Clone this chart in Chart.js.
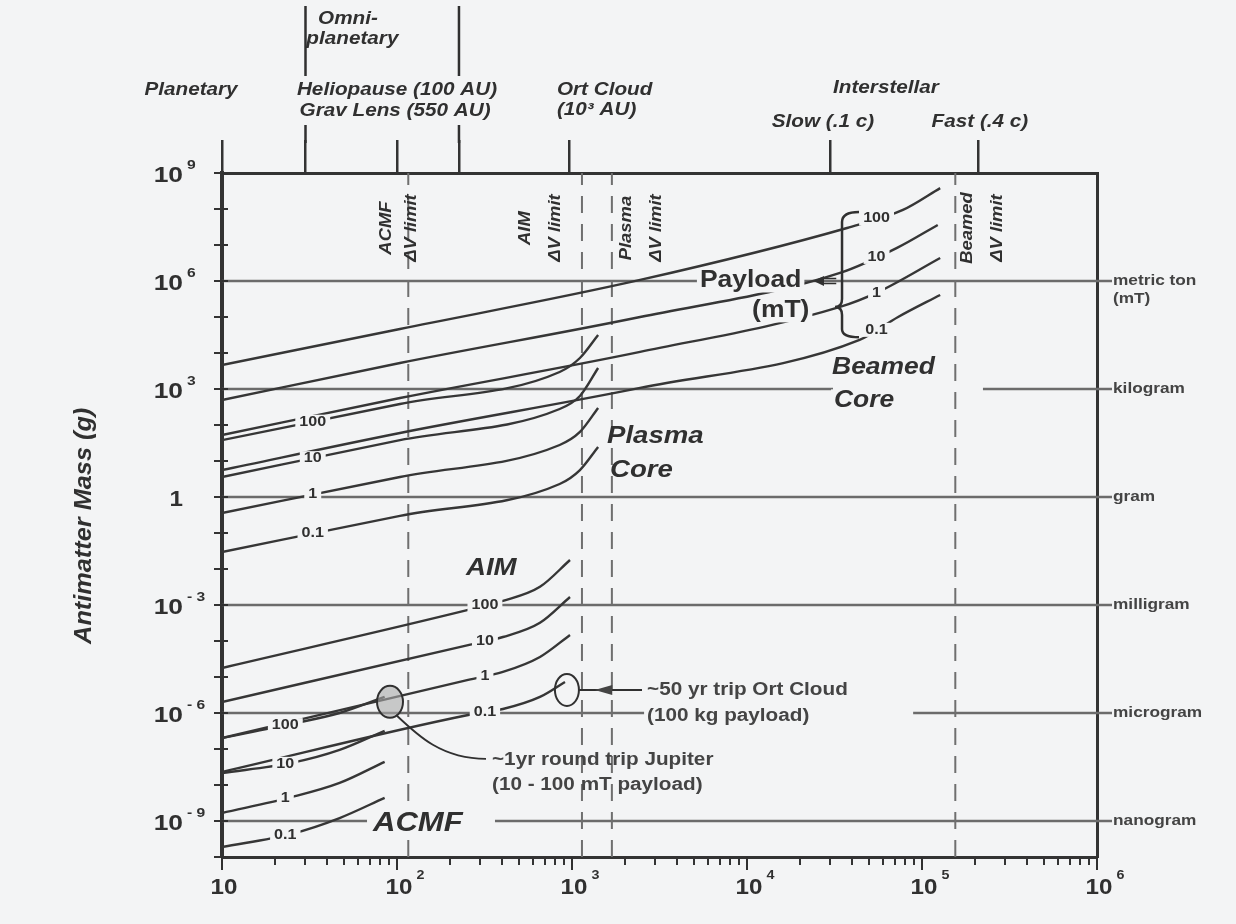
<!DOCTYPE html>
<html>
<head>
<meta charset="utf-8">
<title>Antimatter mass requirements</title>
<script src="https://cdn.jsdelivr.net/npm/chart.js@4.4.1/dist/chart.umd.min.js"></script>
<style>
  html, body { margin: 0; padding: 0; background: #f3f4f5; }
  canvas { display: block; }
</style>
</head>
<body>
<canvas id="chart" width="1236" height="924"></canvas>
<script>
// ---- axes ----
const xLabelTicks = [10, 1e2, 1e3, 1e4, 1e5, 1e6];
const xTickLabels = ['10', '10^2', '10^3', '10^4', '10^5', '10^6'];
const yLabelTicks = [1e9, 1e6, 1e3, 1, 1e-3, 1e-6, 1e-9];
const yTickLabels = ['10^9', '10^6', '10^3', '1', '10^-3', '10^-6', '10^-9'];
const missionTicks = [10, 30, 100, 226, 970, 3e4, 2.1e5];

// ---- mass units marked on the right ----
const unitValues = [1e6, 1e3, 1, 1e-3, 1e-6, 1e-9];
const unitNames = ['metric ton', 'kilogram', 'gram', 'milligram', 'microgram', 'nanogram'];
const unitGaps = [[], [[31000, 2.23e5]], [], [], [[2680, 8.9e4]], [[70, 363]]];

// ---- delta-V limit of each concept ----
const dvLimits = [116, 1140, 1690, 1.55e5];
const dvNames = ['ACMF', 'AIM', 'Plasma', 'Beamed'];

// ---- payload (mT) of each curve ----
const payloads = ['100', '10', '1', '0.1'];

// Beamed core
const beamed100X = [10, 104, 2450, 37300, 77800, 127000];
const beamed100Y = [4640, 46400, 1.07e6, 2.97e7, 9.4e7, 3.8e8];
const beamed10X = [10, 104, 2450, 34000, 72000, 123000];
const beamed10Y = [494, 5280, 1.0e5, 1.67e6, 8.3e6, 3.6e7];
const beamed1X = [10, 104, 2450, 34000, 56000, 127000];
const beamed1Y = [52.7, 562, 1.07e4, 1.9e5, 4.9e5, 4.35e6];
const beamed01X = [10, 104, 2450, 44000, 73000, 127000];
const beamed01Y = [5.6, 60, 1070, 2.3e4, 1.0e5, 4.1e5];

// Plasma core
const plasmaX = [10, 104, 850, 1110, 1410];
const plasma100Y = [38, 383, 2970, 7260, 31600];
const plasma10Y = [3.6, 38, 278, 640, 3830];
const plasma1Y = [0.36, 3.6, 27.8, 64, 297];
const plasma01Y = [0.0297, 0.30, 2.3, 5.6, 24.5];

// AIM
const aimX = [10, 255, 403, 656, 974];
const aim100Y = [1.78e-5, 7.3e-4, 1.3e-3, 3.2e-3, 0.0178];
const aim10Y = [2.02e-6, 7.7e-5, 1.29e-4, 3.2e-4, 1.67e-3];
const aim1Y = [2.02e-7, 8.3e-6, 1.38e-5, 3.6e-5, 1.47e-4];
const aim01X = [10, 255, 403, 656, 912];
const aim01Y = [2.3e-8, 8.8e-7, 1.29e-6, 2.8e-6, 7.3e-6];

// ACMF
const acmfX = [10, 25, 47, 85];
const acmf100Y = [2.02e-7, 5.0e-7, 1.0e-6, 2.8e-6];
const acmf10Y = [2.15e-8, 4.1e-8, 9.4e-8, 3.2e-7];
const acmf1Y = [1.67e-9, 4.6e-9, 1.14e-8, 4.4e-8];
const acmf01Y = [1.9e-10, 4.4e-10, 1.21e-9, 4.4e-9];

// where the payload numbers sit along each family
const beamedLabelAt = 55000, plasmaLabelAt = 33, aimLabelAt = 318, acmfLabelAt = 23;

// ---- drawing style ----
const BG = '#f3f4f5';
const INK = '#303030';
const FAMILY = "'Liberation Sans', Arial, Helvetica, sans-serif";
const HS = 1.15;

const curves = [
  { xs: beamed100X, ys: beamed100Y, label: payloads[0], at: beamedLabelAt },
  { xs: beamed10X, ys: beamed10Y, label: payloads[1], at: beamedLabelAt },
  { xs: beamed1X, ys: beamed1Y, label: payloads[2], at: beamedLabelAt },
  { xs: beamed01X, ys: beamed01Y, label: payloads[3], at: beamedLabelAt },
  { xs: plasmaX, ys: plasma100Y, label: payloads[0], at: plasmaLabelAt },
  { xs: plasmaX, ys: plasma10Y, label: payloads[1], at: plasmaLabelAt },
  { xs: plasmaX, ys: plasma1Y, label: payloads[2], at: plasmaLabelAt },
  { xs: plasmaX, ys: plasma01Y, label: payloads[3], at: plasmaLabelAt },
  { xs: aimX, ys: aim100Y, label: payloads[0], at: aimLabelAt },
  { xs: aimX, ys: aim10Y, label: payloads[1], at: aimLabelAt },
  { xs: aimX, ys: aim1Y, label: payloads[2], at: aimLabelAt },
  { xs: aim01X, ys: aim01Y, label: payloads[3], at: aimLabelAt },
  { xs: acmfX, ys: acmf100Y, label: payloads[0], at: acmfLabelAt },
  { xs: acmfX, ys: acmf10Y, label: payloads[1], at: acmfLabelAt },
  { xs: acmfX, ys: acmf1Y, label: payloads[2], at: acmfLabelAt },
  { xs: acmfX, ys: acmf01Y, label: payloads[3], at: acmfLabelAt },
];

function pts(xs, ys) { return xs.map((x, i) => ({ x, y: ys[i] })); }

function unitLine(v, gaps) {
  const d = [{ x: 10, y: v }];
  gaps.forEach(([a, b]) => { d.push({ x: a, y: v }, { x: a, y: null }, { x: b, y: v }); });
  d.push({ x: 1e6, y: v });
  return d;
}

function yAt(xs, ys, xv) {
  const l = Math.log10(xv);
  for (let i = 0; i < xs.length - 1; i++) {
    const a = Math.log10(xs[i]), b = Math.log10(xs[i + 1]);
    if (l >= a && l <= b) {
      const t = (l - a) / (b - a);
      return 10 ** (Math.log10(ys[i]) + t * (Math.log10(ys[i + 1]) - Math.log10(ys[i])));
    }
  }
  return ys[ys.length - 1];
}

function font(size, bold, italic) {
  return `${italic ? 'italic ' : ''}${bold ? 'bold ' : ''}${size}px ${FAMILY}`;
}

// text with optional background patch that breaks the lines beneath it
function drawText(ctx, s, x, y, o = {}) {
  const size = o.size || 14;
  const hs = o.hs || HS;
  ctx.save();
  ctx.font = font(size, o.bold !== false, o.italic);
  ctx.textBaseline = 'middle';
  ctx.textAlign = 'left';
  const w = ctx.measureText(s).width * hs;
  const x0 = o.align === 'center' ? x - w / 2 : o.align === 'right' ? x - w : x;
  if (o.bg) {
    const p = o.pad == null ? 3 : o.pad;
    ctx.fillStyle = BG;
    ctx.fillRect(x0 - p, y - size * 0.5, w + 2 * p, size * 1.0);
  }
  ctx.translate(x0, y);
  ctx.scale(hs, 1);
  ctx.fillStyle = o.color || INK;
  ctx.fillText(s, 0, 0);
  ctx.restore();
  return w;
}

function drawVertical(ctx, s, x, y, o = {}) {
  const size = o.size || 14;
  ctx.save();
  ctx.translate(x, y);
  ctx.rotate(-Math.PI / 2);
  ctx.font = font(size, o.bold !== false, o.italic);
  ctx.textBaseline = 'middle';
  ctx.textAlign = 'center';
  ctx.scale(o.hs || HS, 1);
  ctx.fillStyle = o.color || INK;
  ctx.fillText(s, 0, 0);
  ctx.restore();
}

// "10^3" style label: base with a raised exponent
function drawPow(ctx, label, x, y, o) {
  const [base, exp] = label.split('^');
  ctx.save();
  ctx.font = font(o.size, true, false);
  const bw = ctx.measureText(base).width * o.hs;
  const bx = o.align === 'right' ? x - bw : x - bw / 2;
  ctx.fillStyle = INK;
  ctx.textBaseline = 'middle';
  ctx.textAlign = 'left';
  ctx.save();
  ctx.translate(bx, y); ctx.scale(o.hs, 1); ctx.fillText(base, 0, 0);
  ctx.restore();
  if (exp) {
    ctx.save();
    ctx.font = font(o.expSize, true, false);
    ctx.translate(bx + bw + 4, y - o.rise); ctx.scale(o.hs, 1); ctx.fillText(exp.replace('-', '- '), 0, 0);
    ctx.restore();
  }
  ctx.restore();
}

// labels inside the plot, placed in decades (log10 of x and y)
const innerTexts = [
  { s: 'Plasma', lx: 3.2, ly: 1.69, size: 24, italic: true },
  { s: 'Core', lx: 3.217, ly: 0.75, size: 24, italic: true },
  { s: 'Beamed', lx: 4.486, ly: 3.58, size: 23, italic: true, bg: true },
  { s: 'Core', lx: 4.497, ly: 2.67, size: 23, italic: true, bg: true },
  { s: 'AIM', lx: 2.394, ly: -1.97, size: 24, italic: true },
  { s: 'ACMF', lx: 1.863, ly: -9.08, size: 27, italic: true, bg: true, pad: 6 },
  { s: 'Payload', lx: 3.731, ly: 6.0, size: 23, bg: true },
  { s: '(mT)', lx: 4.029, ly: 5.17, size: 23, bg: true },
  { s: '~50 yr trip Ort Cloud', lx: 3.429, ly: -5.36, size: 18, color: '#444' },
  { s: '(100 kg payload)', lx: 3.429, ly: -6.08, size: 18, color: '#444', bg: true },
  { s: '~1yr round trip Jupiter', lx: 2.543, ly: -7.31, size: 18, color: '#444' },
  { s: '(10 - 100 mT payload)', lx: 2.543, ly: -8.0, size: 18, color: '#444' },
];

// rotated names of the delta-V limits
const dvLabelLx = [[1.943, 2.086], [2.737, 2.909], [3.314, 3.486], [5.263, 5.434]];
const dvLabelLy = 7.47;

// captions above the plot: decade position along x, height above the frame
const topTexts = [
  { s: 'Planetary', lx: 0.823, dy: 83, align: 'center' },
  { s: 'Omni-', lx: 1.72, dy: 154, align: 'center' },
  { s: 'planetary', lx: 1.745, dy: 134, align: 'center' },
  { s: 'Heliopause (100 AU)', lx: 2.0, dy: 83, align: 'center' },
  { s: 'Grav Lens (550 AU)', lx: 1.989, dy: 62, align: 'center' },
  { s: 'Ort Cloud', lx: 2.914, dy: 83, align: 'left' },
  { s: '(10³ AU)', lx: 2.914, dy: 63, align: 'left' },
  { s: 'Interstellar', lx: 4.794, dy: 85, align: 'center' },
  { s: 'Slow (.1 c)', lx: 4.434, dy: 51, align: 'center' },
  { s: 'Fast (.4 c)', lx: 5.331, dy: 51, align: 'center' },
];

const decor = {
  id: 'decor',
  afterDatasetsDraw(chart) {
    const ctx = chart.ctx, xs = chart.scales.x, ys = chart.scales.y, a = chart.chartArea;
    const X = l => xs.getPixelForValue(10 ** l);
    const Y = l => ys.getPixelForValue(10 ** l);
    ctx.save();
    ctx.beginPath(); ctx.rect(a.left, a.top, a.right - a.left, a.bottom - a.top); ctx.clip();

    // payload numbers on the curves
    curves.forEach(c => {
      const x = xs.getPixelForValue(c.at);
      const y = ys.getPixelForValue(yAt(c.xs, c.ys, c.at));
      drawText(ctx, c.label, x, y, { size: 14, align: 'center', bg: true, pad: 4 });
    });

    // delta-V limit captions
    dvLabelLx.forEach((pair, i) => {
      drawVertical(ctx, dvNames[i], X(pair[0]), Y(dvLabelLy), { size: 16, italic: true });
      drawVertical(ctx, '\u0394V limit', X(pair[1]), Y(dvLabelLy), { size: 16, italic: true });
    });

    innerTexts.forEach(t => drawText(ctx, t.s, X(t.lx), Y(t.ly), t));

    ctx.strokeStyle = INK; ctx.fillStyle = INK; ctx.lineWidth = 2;

    // mission markers
    const jx = X(1.96), jy = Y(-5.69);
    ctx.beginPath(); ctx.ellipse(jx, jy, 13, 16, 0, 0, Math.PI * 2);
    ctx.fillStyle = 'rgba(170,170,170,0.6)'; ctx.fill(); ctx.stroke();
    ctx.beginPath(); ctx.moveTo(jx + 6, jy + 13);
    ctx.bezierCurveTo(jx + 28, jy + 34, jx + 52, jy + 57, jx + 96, jy + 57);
    ctx.lineWidth = 1.8; ctx.stroke();

    const ox = X(2.971), oy = Y(-5.36);
    ctx.lineWidth = 2;
    ctx.beginPath(); ctx.ellipse(ox, oy, 12, 16, 0, 0, Math.PI * 2); ctx.stroke();
    ctx.beginPath(); ctx.moveTo(X(3.4), oy); ctx.lineTo(ox + 12, oy); ctx.lineWidth = 2; ctx.stroke();
    ctx.fillStyle = '#444';
    ctx.beginPath(); ctx.moveTo(X(3.13), oy); ctx.lineTo(X(3.23), oy - 5); ctx.lineTo(X(3.23), oy + 5); ctx.closePath(); ctx.fill();

    // brace grouping the beamed-core payloads
    const bx = X(4.543), bt = Y(7.92), bb = Y(4.44), bm = Y(5.28);
    ctx.strokeStyle = INK; ctx.lineWidth = 2.5;
    ctx.beginPath();
    ctx.moveTo(bx + 17, bt);
    ctx.quadraticCurveTo(bx, bt, bx, bt + 10);
    ctx.lineTo(bx, bm - 8);
    ctx.quadraticCurveTo(bx, bm, bx - 7, bm);
    ctx.quadraticCurveTo(bx, bm, bx, bm + 8);
    ctx.lineTo(bx, bb - 8);
    ctx.quadraticCurveTo(bx, bb, bx + 17, bb);
    ctx.stroke();

    // pointer between "Payload" and the brace
    const py = Y(6.0);
    ctx.fillStyle = INK;
    ctx.beginPath(); ctx.moveTo(X(4.38), py); ctx.lineTo(X(4.44), py - 5); ctx.lineTo(X(4.44), py + 5); ctx.closePath(); ctx.fill();
    ctx.lineWidth = 1.6;
    ctx.beginPath(); ctx.moveTo(X(4.44), py - 2.5); ctx.lineTo(X(4.51), py - 2.5);
    ctx.moveTo(X(4.44), py + 2.5); ctx.lineTo(X(4.51), py + 2.5); ctx.stroke();

    // inner tick marks on the left axis
    ctx.strokeStyle = INK; ctx.lineWidth = 2;
    for (let e = -10; e <= 9; e++) {
      const y = Y(e);
      ctx.beginPath(); ctx.moveTo(a.left, y); ctx.lineTo(a.left + 6, y); ctx.stroke();
    }
    ctx.restore();
  },
  afterDraw(chart) {
    const ctx = chart.ctx, xs = chart.scales.x, ys = chart.scales.y, a = chart.chartArea;
    const X = l => xs.getPixelForValue(10 ** l);
    ctx.save();

    // tick labels
    xLabelTicks.forEach((v, i) => {
      drawPow(ctx, xTickLabels[i], xs.getPixelForValue(v) + 2, a.bottom + 31, { size: 22, expSize: 13, rise: 13, hs: 1.1, align: 'center' });
    });
    yLabelTicks.forEach((v, i) => {
      const lab = yTickLabels[i];
      const y = ys.getPixelForValue(v) + 3;
      if (lab.includes('^')) drawPow(ctx, lab, a.left - 39, y, { size: 22, expSize: 13, rise: 11, hs: 1.2, align: 'right' });
      else drawText(ctx, lab, a.left - 39, y, { size: 22, align: 'right', hs: 1.1 });
    });

    // longer decade ticks on the bottom axis
    ctx.strokeStyle = INK; ctx.lineWidth = 2;
    xLabelTicks.forEach(v => {
      const x = xs.getPixelForValue(v);
      ctx.beginPath(); ctx.moveTo(x, a.bottom); ctx.lineTo(x, a.bottom + 13); ctx.stroke();
    });

    // axis title
    drawVertical(ctx, 'Antimatter Mass (g)', a.left - 137, ys.getPixelForValue(10 ** -0.8), { size: 23, italic: true, hs: 1.1 });

    // mass-unit stubs and names on the right
    ctx.strokeStyle = '#6b6b6b'; ctx.lineWidth = 2.5;
    unitValues.forEach((v, i) => {
      const y = ys.getPixelForValue(v);
      ctx.beginPath(); ctx.moveTo(a.right, y); ctx.lineTo(a.right + 15, y); ctx.stroke();
      drawText(ctx, unitNames[i], a.right + 16, y, { size: 15, color: '#444' });
      if (i === 0) drawText(ctx, '(mT)', a.right + 16, y + 18, { size: 15, color: '#444' });
    });

    // omni-planetary bracket lines
    ctx.strokeStyle = INK; ctx.lineWidth = 2.5;
    [missionTicks[1], missionTicks[3]].forEach(v => {
      const x = xs.getPixelForValue(v);
      ctx.beginPath();
      ctx.moveTo(x, a.top - 48); ctx.lineTo(x, a.top - 30);
      ctx.moveTo(x, a.top - 167); ctx.lineTo(x, a.top - 97);
      ctx.stroke();
    });

    // captions above the plot
    topTexts.forEach(t => drawText(ctx, t.s, X(t.lx), a.top - t.dy, { size: 18, italic: true, align: t.align }));
    ctx.restore();
  }
};

const datasets = [];
curves.forEach(c => datasets.push({
  data: pts(c.xs, c.ys), showLine: true, pointRadius: 0, borderColor: '#363636',
  borderWidth: 2.4, cubicInterpolationMode: 'monotone', order: 1
}));
dvLimits.forEach(v => datasets.push({
  data: [{ x: v, y: 1e-10 }, { x: v, y: 1e9 }], showLine: true, pointRadius: 0,
  borderColor: '#6f6f6f', borderWidth: 2, borderDash: [17, 11], order: 2
}));
unitValues.forEach((v, i) => datasets.push({
  data: unitLine(v, unitGaps[i]), showLine: true, pointRadius: 0,
  borderColor: '#6b6b6b', borderWidth: 2.5, spanGaps: false, order: 3
}));

const decadeTicks = [];
for (let e = -10; e <= 9; e++) decadeTicks.push(10 ** e);
const xMinorTicks = [];
for (let e = 1; e <= 5; e++) for (let k = 1; k <= 9; k++) xMinorTicks.push(k * 10 ** e);
xMinorTicks.push(1e6);

const gridBase = { drawOnChartArea: false, drawTicks: true, color: '#333', lineWidth: 2, tickColor: '#333', tickWidth: 2 };

new Chart(document.getElementById('chart'), {
  type: 'scatter',
  data: { datasets },
  options: {
    responsive: false,
    devicePixelRatio: 1,
    animation: false,
    layout: { padding: { left: 214, right: 139, top: 140, bottom: 59 } },
    plugins: { legend: { display: false }, tooltip: { enabled: false } },
    scales: {
      x: {
        type: 'logarithmic', position: 'bottom', min: 10, max: 1e6,
        afterBuildTicks: s => { s.ticks = xMinorTicks.map(v => ({ value: v })); },
        ticks: { display: false, callback: () => '' },
        grid: { ...gridBase, tickLength: 8 },
        border: { display: true, color: '#333', width: 3 }
      },
      xTop: {
        type: 'logarithmic', position: 'top', min: 10, max: 1e6,
        afterBuildTicks: s => { s.ticks = missionTicks.map(v => ({ value: v })); },
        ticks: { display: false, callback: () => '' },
        grid: { ...gridBase, tickLength: 33, lineWidth: 2.5, tickWidth: 2.5 },
        border: { display: true, color: '#333', width: 3 }
      },
      y: {
        type: 'logarithmic', position: 'left', min: 1e-10, max: 1e9,
        afterBuildTicks: s => { s.ticks = decadeTicks.map(v => ({ value: v })); },
        ticks: { display: false, callback: () => '' },
        grid: { ...gridBase, tickLength: 8 },
        border: { display: true, color: '#333', width: 4 }
      },
      yRight: {
        type: 'logarithmic', position: 'right', min: 1e-10, max: 1e9,
        afterBuildTicks: s => { s.ticks = decadeTicks.map(v => ({ value: v })); },
        ticks: { display: false, callback: () => '' },
        grid: { display: false, drawTicks: false },
        border: { display: true, color: '#333', width: 3 }
      }
    }
  },
  plugins: [decor]
});
</script>
</body>
</html>
